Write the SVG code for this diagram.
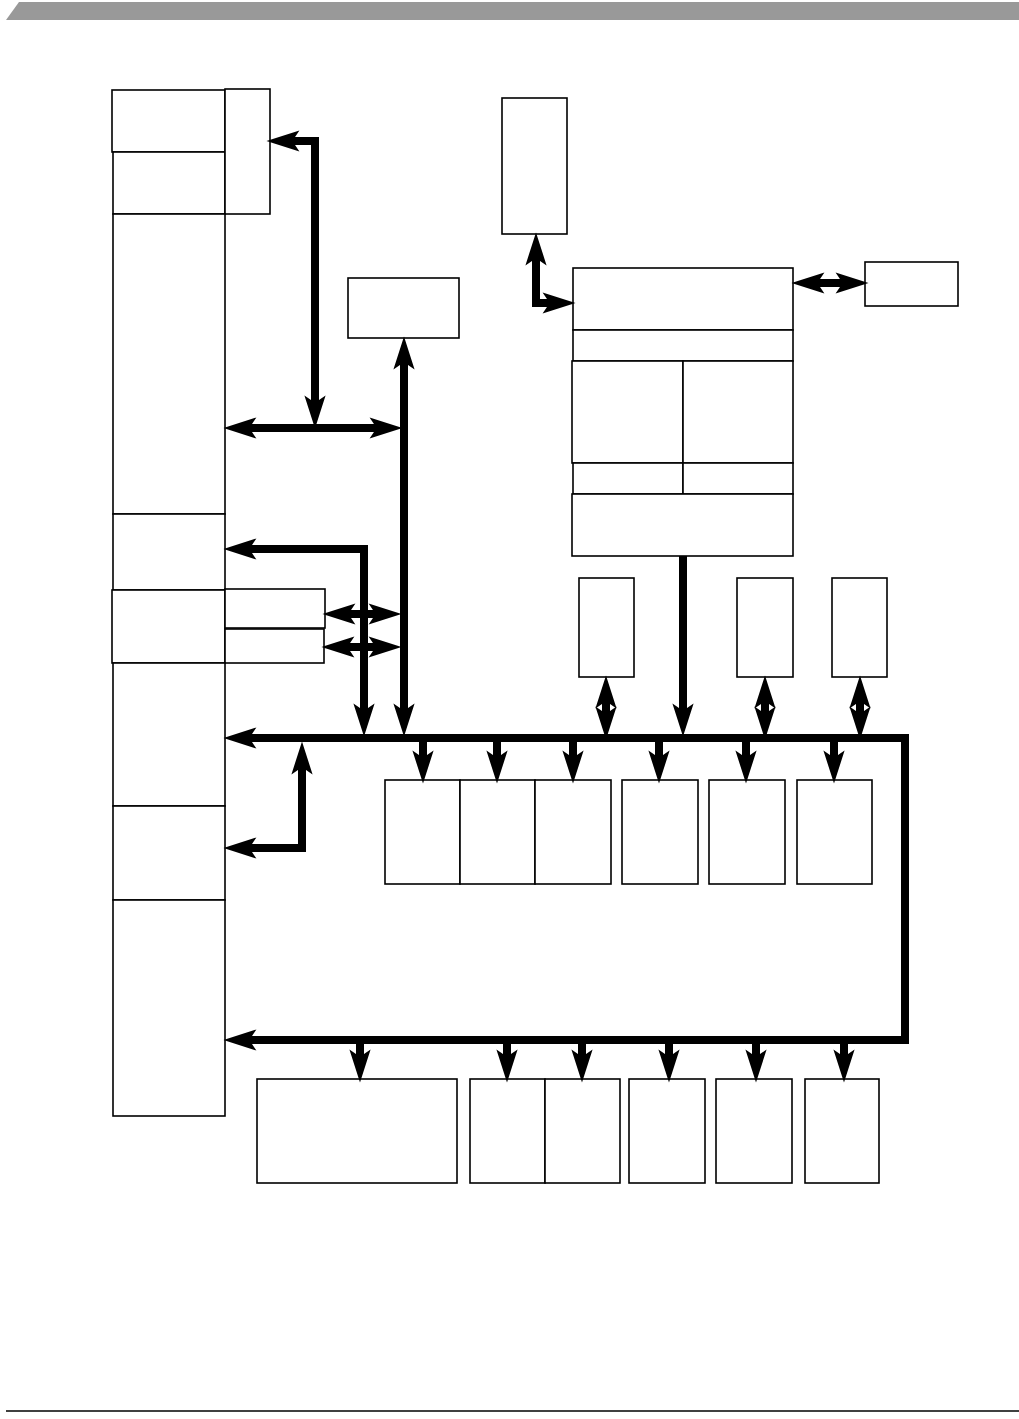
<svg xmlns="http://www.w3.org/2000/svg" width="1019" height="1419" viewBox="0 0 1019 1419">
<style>
.b{fill:#fff;stroke:#000;stroke-width:1.6}
.c{fill:none;stroke:#000;stroke-width:8;stroke-linejoin:miter}
</style>
<defs>
<marker id="ah" markerUnits="userSpaceOnUse" markerWidth="40" markerHeight="40" refX="0" refY="0" viewBox="-10 -12 34 24" orient="auto-start-reverse" overflow="visible">
<path d="M-8,-9 L20,0 L-8,9 L-2,0 Z" fill="#000"/>
</marker>
</defs>
<rect width="1019" height="1419" fill="#fff"/>
<polygon points="19,2 1019,2 1019,20 6,20" fill="#999"/>
<line x1="6" y1="1411" x2="1019" y2="1411" stroke="#000" stroke-width="1.5"/>

<g id="left-column">
<rect id="n1" class="b" x="112" y="90" width="113" height="62"/>
<rect id="n2" class="b" x="113" y="152" width="112" height="62"/>
<rect id="n3" class="b" x="225" y="89" width="45" height="125"/>
<rect id="n4" class="b" x="113" y="214" width="112" height="300"/>
<rect id="n5" class="b" x="113" y="514" width="112" height="76"/>
<rect id="n6" class="b" x="112" y="590" width="113" height="73"/>
<rect id="n7" class="b" x="225" y="589" width="100" height="39"/>
<rect id="n8" class="b" x="225" y="629" width="99" height="34"/>
<rect id="n9" class="b" x="113" y="663" width="112" height="143"/>
<rect id="n10" class="b" x="113" y="806" width="112" height="94"/>
<rect id="n11" class="b" x="113" y="900" width="112" height="216"/>
</g>
<g id="n12"><rect class="b" x="348" y="278" width="111" height="60"/></g>
<g id="n13"><rect class="b" x="502" y="98" width="65" height="136"/></g>
<g id="n14">
<rect class="b" x="573" y="268" width="220" height="62"/>
<rect class="b" x="573" y="330" width="220" height="31"/>
<rect class="b" x="572" y="361" width="111" height="102"/>
<rect class="b" x="683" y="361" width="110" height="102"/>
<rect class="b" x="573" y="463" width="110" height="31"/>
<rect class="b" x="683" y="463" width="110" height="31"/>
<rect class="b" x="572" y="494" width="221" height="62"/>
</g>
<g id="n15"><rect class="b" x="865" y="262" width="93" height="44"/></g>
<g id="n16"><rect class="b" x="579" y="578" width="55" height="99"/></g>
<g id="n17"><rect class="b" x="737" y="578" width="56" height="99"/></g>
<g id="n18"><rect class="b" x="832" y="578" width="55" height="99"/></g>
<g id="row1">
<rect id="n19" class="b" x="385" y="780" width="75" height="104"/>
<rect id="n20" class="b" x="460" y="780" width="75" height="104"/>
<rect id="n21" class="b" x="535" y="780" width="76" height="104"/>
<rect id="n22" class="b" x="622" y="780" width="76" height="104"/>
<rect id="n23" class="b" x="709" y="780" width="76" height="104"/>
<rect id="n24" class="b" x="797" y="780" width="75" height="104"/>
</g>
<g id="row2">
<rect id="n25" class="b" x="257" y="1079" width="200" height="104"/>
<rect id="n26" class="b" x="470" y="1079" width="75" height="104"/>
<rect id="n27" class="b" x="545" y="1079" width="75" height="104"/>
<rect id="n28" class="b" x="629" y="1079" width="76" height="104"/>
<rect id="n29" class="b" x="716" y="1079" width="76" height="104"/>
<rect id="n30" class="b" x="805" y="1079" width="74" height="104"/>
</g>

<g id="connectors">
<path class="c" d="M290,141 H315 V405" marker-start="url(#ah)" marker-end="url(#ah)"/>
<path class="c" d="M247,428 H379" marker-start="url(#ah)" marker-end="url(#ah)"/>
<path class="c" d="M404,360 V713" marker-start="url(#ah)" marker-end="url(#ah)"/>
<path class="c" d="M247,549 H364 V713" marker-start="url(#ah)" marker-end="url(#ah)"/>
<path class="c" d="M346,614 H378" marker-start="url(#ah)" marker-end="url(#ah)"/>
<path class="c" d="M345,647 H378" marker-start="url(#ah)" marker-end="url(#ah)"/>
<path class="c" d="M247,738 H905 V1040 H247" marker-start="url(#ah)" marker-end="url(#ah)"/>
<path class="c" d="M302,765 V848 H247" marker-start="url(#ah)" marker-end="url(#ah)"/>
<path class="c" d="M536,256 V303 H552" marker-start="url(#ah)" marker-end="url(#ah)"/>
<path class="c" d="M815,283 H845" marker-start="url(#ah)" marker-end="url(#ah)"/>
<path class="c" d="M683,556 V713" marker-end="url(#ah)"/>
<path class="c" d="M606,699 V716" marker-start="url(#ah)" marker-end="url(#ah)"/>
<path class="c" d="M765,699 V716" marker-start="url(#ah)" marker-end="url(#ah)"/>
<path class="c" d="M860,699 V716" marker-start="url(#ah)" marker-end="url(#ah)"/>
<path class="c" d="M423,741 V760" marker-end="url(#ah)"/>
<path class="c" d="M497,741 V760" marker-end="url(#ah)"/>
<path class="c" d="M573,741 V760" marker-end="url(#ah)"/>
<path class="c" d="M659,741 V760" marker-end="url(#ah)"/>
<path class="c" d="M746,741 V760" marker-end="url(#ah)"/>
<path class="c" d="M834,741 V760" marker-end="url(#ah)"/>
<path class="c" d="M360,1043 V1059" marker-end="url(#ah)"/>
<path class="c" d="M507,1043 V1059" marker-end="url(#ah)"/>
<path class="c" d="M582,1043 V1059" marker-end="url(#ah)"/>
<path class="c" d="M669,1043 V1059" marker-end="url(#ah)"/>
<path class="c" d="M756,1043 V1059" marker-end="url(#ah)"/>
<path class="c" d="M844,1043 V1059" marker-end="url(#ah)"/>
</g>
</svg>
